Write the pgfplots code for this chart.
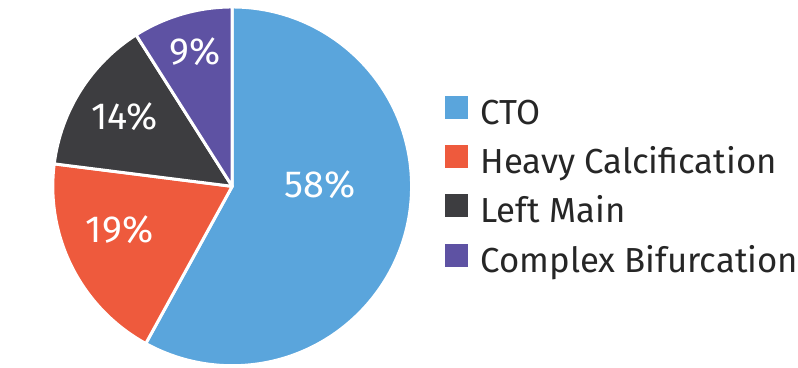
\documentclass[border=0pt]{standalone}
\usepackage{pgfplots}
\pgfplotsset{compat=1.18}
\usepackage{fontspec}
\setmainfont{Fira Sans}
\definecolor{cto}{HTML}{5AA5DC}
\definecolor{hc}{HTML}{EE5A3D}
\definecolor{lm}{HTML}{3D3D40}
\definecolor{cb}{HTML}{5E52A3}
\definecolor{txt}{HTML}{262626}
\begin{document}
\begin{tikzpicture}
\begin{axis}[x=1bp, y=1bp, xmin=0, xmax=798, ymin=0, ymax=368,
  hide axis, clip=false,
  legend cell align=left,
  legend style={draw=none, fill=none, inner sep=0pt, outer sep=0pt,
    at={(axis cs:447,272)}, anchor=north west,
    font=\fontsize{35}{40}\selectfont\color{txt},
    row sep=13bp,
    nodes={inner sep=0pt, text height=25bp, text depth=8bp}},
  legend image code/.code={\fill[#1, draw=none] (0bp,-3bp) rectangle (23bp,20bp); \path (35bp,0bp);},
]
\path (axis cs:0,0) rectangle (axis cs:798,368);
\addlegendimage{fill=cto}\addlegendentry{CTO}
\addlegendimage{fill=hc}\addlegendentry{Heavy Calcification}
\addlegendimage{fill=lm}\addlegendentry{Left Main}
\addlegendimage{fill=cb}\addlegendentry{Complex Bifurcation}
% data: 58, 19, 14, 9 percent, clockwise from the top
\filldraw[fill=cto, draw=white, line width=3bp, line join=round]
  (axis cs:233,181) -- ++(90:180bp) arc[start angle=90, delta angle=-3.6*58, radius=180bp] -- cycle;
\filldraw[fill=hc, draw=white, line width=3bp, line join=round]
  (axis cs:233,181) -- ++({90-3.6*58}:180bp) arc[start angle={90-3.6*58}, delta angle=-3.6*19, radius=180bp] -- cycle;
\filldraw[fill=lm, draw=white, line width=3bp, line join=round]
  (axis cs:233,181) -- ++({90-3.6*77}:180bp) arc[start angle={90-3.6*77}, delta angle=-3.6*14, radius=180bp] -- cycle;
\filldraw[fill=cb, draw=white, line width=3bp, line join=round]
  (axis cs:233,181) -- ++({90-3.6*91}:180bp) arc[start angle={90-3.6*91}, delta angle=-3.6*9, radius=180bp] -- cycle;
\node[white, font=\fontsize{38}{44}\selectfont] at (axis cs:321,183) {58\%};
\node[white, font=\fontsize{38}{44}\selectfont] at (axis cs:120,138) {19\%};
\node[white, font=\fontsize{38}{44}\selectfont] at (axis cs:125,251) {14\%};
\node[white, font=\fontsize{38}{44}\selectfont] at (axis cs:196,316) {9\%};
\end{axis}
\end{tikzpicture}
\end{document}
